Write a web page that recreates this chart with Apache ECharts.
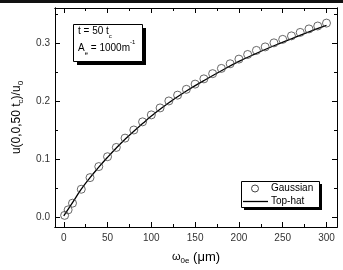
<!DOCTYPE html>
<html>
<head>
<meta charset="utf-8">
<script src="https://cdn.jsdelivr.net/npm/echarts@6/dist/echarts.min.js"></script>
<style>
  html, body { margin: 0; padding: 0; background: #fff; }
  #chart { width: 343px; height: 270px; }
</style>
</head>
<body>
<div id="chart"></div>
<script>
// waist values (um) and u(0,0,50tc)/u0
var gaussX = [1, 5, 10, 20, 30, 40, 50, 60, 70, 80, 90, 100, 110, 120, 130, 140, 150, 160, 170, 180, 190, 200, 210, 220, 230, 240, 250, 260, 270, 280, 290, 300];
var gaussY = [0.003, 0.0125, 0.024, 0.048, 0.068, 0.087, 0.104, 0.120, 0.136, 0.150, 0.164, 0.176, 0.188, 0.200, 0.210, 0.220, 0.229, 0.238, 0.247, 0.256, 0.264, 0.272, 0.280, 0.287, 0.293, 0.300, 0.306, 0.312, 0.318, 0.324, 0.329, 0.334];
var hatX = [0, 10, 20, 30, 40, 50, 60, 70, 80, 90, 100, 120, 140, 160, 180, 200, 220, 240, 260, 280, 300];
var hatY = [0.002, 0.025, 0.048, 0.068, 0.086, 0.103, 0.119, 0.134, 0.148, 0.161, 0.174, 0.197, 0.217, 0.235, 0.252, 0.268, 0.282, 0.295, 0.307, 0.319, 0.330];
var xMajor = [0, 50, 100, 150, 200, 250, 300];
var xMinor = [25, 75, 125, 175, 225, 275];
var yMajor = [0, 0.1, 0.2, 0.3];
var yMinor = [0.05, 0.15, 0.25, 0.35];

var font = '"Liberation Sans", Arial, sans-serif';
var chart = echarts.init(document.getElementById('chart'));

function xAx(pos, ticks, len, labels, name) {
  return {
    type: 'value', position: pos, min: -10, max: 312,
    axisLine: { show: true, onZero: false, lineStyle: { color: '#000', width: 1 } },
    axisTick: { show: true, inside: true, length: len, customValues: ticks, lineStyle: { color: '#000' } },
    axisLabel: { show: labels, customValues: ticks, color: '#333', fontSize: 10, fontFamily: font, margin: 6 },
    splitLine: { show: false },
    name: name || '', nameLocation: 'middle', nameGap: 22,
    nameTextStyle: {
      fontFamily: font, color: '#000',
      rich: { w: { fontSize: 11, fontFamily: font, lineHeight: 16 }, a: { fontSize: 13, fontFamily: font, lineHeight: 16 }, s: { fontSize: 8, fontFamily: font, verticalAlign: 'bottom' } }
    }
  };
}
function yAx(pos, ticks, len, labels, name) {
  return {
    type: 'value', position: pos, min: -0.017, max: 0.36,
    axisLine: { show: true, onZero: false, lineStyle: { color: '#000', width: 1 } },
    axisTick: { show: true, inside: true, length: len, customValues: ticks, lineStyle: { color: '#000' } },
    axisLabel: { show: labels, customValues: ticks, color: '#333', fontSize: 10, fontFamily: font, margin: 5,
      formatter: function (v) { return v.toFixed(1); } },
    splitLine: { show: false },
    name: name || '', nameLocation: 'middle', nameGap: 30, nameRotate: 90,
    nameTextStyle: {
      fontFamily: font, color: '#000',
      rich: { a: { fontSize: 12, fontFamily: font, lineHeight: 16 }, s: { fontSize: 8, fontFamily: font, verticalAlign: 'bottom' } }
    }
  };
}

chart.setOption({
  backgroundColor: '#fff',
  animation: false,
  grid: { left: 55, right: 6, top: 8, bottom: 41 },
  xAxis: [
    xAx('bottom', xMajor, 5, true, '{w|ω}{s|0e}{a| (μm)}'),
    xAx('bottom', xMinor, 3, false),
    xAx('top', xMajor, 5, false),
    xAx('top', xMinor, 3, false)
  ],
  yAxis: [
    yAx('left', yMajor, 5, true, '{a|u(0,0,50 t}{s|c}{a|)/u}{s|0}'),
    yAx('left', yMinor, 3, false),
    yAx('right', yMajor, 5, false),
    yAx('right', yMinor, 3, false)
  ],
  graphic: [
    // annotation box
    { type: 'rect', z: 5, shape: { x: 77, y: 28, width: 69, height: 37 }, style: { fill: '#000' } },
    { type: 'rect', z: 6, shape: { x: 73.5, y: 24.5, width: 69, height: 37 }, style: { fill: '#fff', stroke: '#000', lineWidth: 1 } },
    { type: 'text', z: 7, left: 78, top: 26, style: {
        text: '{a|t = 50 t}{s|c}\n{a|A}{s|e}{a| = 1000m}{p|-1}', fontFamily: font,
        rich: { a: { fontSize: 10, fontFamily: font, lineHeight: 17, fill: '#000' },
                s: { fontSize: 6, fontFamily: font, verticalAlign: 'bottom', fill: '#000' },
                p: { fontSize: 6, fontFamily: font, verticalAlign: 'top', fill: '#000' } } } },
    // legend box
    { type: 'rect', z: 5, shape: { x: 244, y: 184, width: 78, height: 26 }, style: { fill: '#000' } },
    { type: 'rect', z: 6, shape: { x: 241.5, y: 181.5, width: 78, height: 26 }, style: { fill: '#fff', stroke: '#000', lineWidth: 1 } },
    { type: 'circle', z: 7, shape: { cx: 255, cy: 188.5, r: 3.5 }, style: { fill: '#fff', stroke: '#444', lineWidth: 1 } },
    { type: 'line', z: 7, shape: { x1: 243, y1: 201.5, x2: 268, y2: 201.5 }, style: { stroke: '#000', lineWidth: 1.3 } },
    { type: 'text', z: 7, x: 271, y: 188.5, style: { text: 'Gaussian', fontFamily: font, fontSize: 10, fill: '#000', verticalAlign: 'middle' } },
    { type: 'text', z: 7, x: 271, y: 201.5, style: { text: 'Top-hat', fontFamily: font, fontSize: 10, fill: '#000', verticalAlign: 'middle' } },
    { type: 'rect', z: 10, shape: { x: 0, y: 0, width: 343, height: 3 }, style: { fill: '#111' } }
  ],
  series: [
    {
      name: 'Top-hat', type: 'line', smooth: true, showSymbol: false, symbol: 'none',
      xAxisIndex: 0, yAxisIndex: 0, z: 3,
      lineStyle: { color: '#000', width: 1.3 }, itemStyle: { color: '#000' },
      data: hatX.map(function (x, i) { return [x, hatY[i]]; })
    },
    {
      name: 'Gaussian', type: 'scatter', symbol: 'circle', symbolSize: 8,
      xAxisIndex: 0, yAxisIndex: 0, z: 4,
      itemStyle: { color: 'rgba(0,0,0,0)', borderColor: '#444', borderWidth: 1 },
      data: gaussX.map(function (x, i) { return [x, gaussY[i]]; })
    }
  ]
});
</script>
</body>
</html>
